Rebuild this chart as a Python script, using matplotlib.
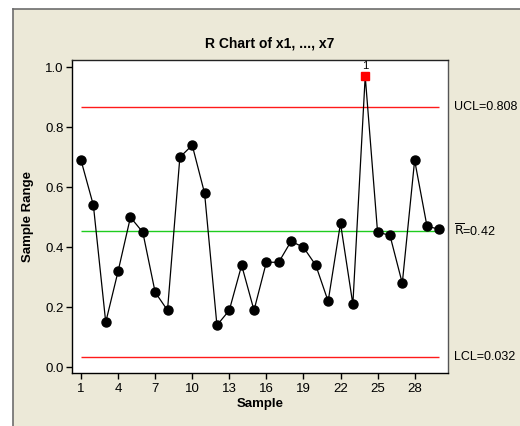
import matplotlib
matplotlib.use('Agg')
import matplotlib.pyplot as plt
from matplotlib.patches import Rectangle
from matplotlib.lines import Line2D

plt.rcParams['font.family'] = ['Liberation Sans', 'DejaVu Sans']

sample = list(range(1, 31))
ranges = [0.69, 0.54, 0.15, 0.32, 0.50, 0.45, 0.25, 0.19, 0.70, 0.74,
          0.58, 0.14, 0.19, 0.34, 0.19, 0.35, 0.35, 0.42, 0.40, 0.34,
          0.22, 0.48, 0.21, 0.97, 0.45, 0.44, 0.28, 0.69, 0.47, 0.46]
out_sample = [24]

# where the limit lines sit in the picture, and their labels
ucl, center, lcl = 0.869, 0.453, 0.033
ucl_text = 'UCL=0.808'
center_text = r'$\overline{\mathrm{R}}$=0.42'
lcl_text = 'LCL=0.032'
xticks = [1, 4, 7, 10, 13, 16, 19, 22, 25, 28]
yticks = [0.0, 0.2, 0.4, 0.6, 0.8, 1.0]

W, H = 520, 426
fig = plt.figure(figsize=(5.2, 4.26), dpi=100, facecolor='white')

# beige panel with dark border on top/left
fig.patches.append(Rectangle((13 / W, 0), 1, 1 - 9 / H, transform=fig.transFigure,
                             facecolor='#ECE9D8', edgecolor='none', zorder=-10))
fig.lines.append(Line2D([13 / W, 13 / W], [0, 1 - 9 / H], transform=fig.transFigure,
                        color='#6d6d6d', lw=1.2, zorder=-9))
fig.lines.append(Line2D([13 / W, 1], [1 - 9 / H, 1 - 9 / H], transform=fig.transFigure,
                        color='#6d6d6d', lw=1.2, zorder=-9))

ax = fig.add_axes([72 / W, 1 - 373.3 / H, 376 / W, 313.3 / H])
ax.set_facecolor('white')

ax.plot(sample, ranges, color='black', lw=0.9, zorder=3)
ok = [(s, v) for s, v in zip(sample, ranges) if s not in out_sample]
bad = [(s, v) for s, v in zip(sample, ranges) if s in out_sample]
ax.plot([p[0] for p in ok], [p[1] for p in ok], ls='none', marker='o', ms=6.5,
        color='black', zorder=4)
ax.plot([p[0] for p in bad], [p[1] for p in bad], ls='none', marker='s', ms=5.5,
        color='#ff0000', mec='#ff0000', zorder=4)
for s, v in bad:
    ax.text(s, v + 0.017, '1', ha='center', va='bottom', fontsize=8)

ax.hlines([ucl, lcl], 1, 30, colors='#ff1a1a', lw=1)
ax.hlines(center, 1, 30, colors='#1fcc1f', lw=1)

ax.text(31.15, ucl, ucl_text, ha='left', va='center', fontsize=9, clip_on=False)
ax.text(31.15, center, center_text, ha='left', va='center', fontsize=9, clip_on=False)
ax.text(31.15, lcl, lcl_text, ha='left', va='center', fontsize=9, clip_on=False)

ax.set_xlim(0.27, 30.7)
ax.set_ylim(-0.02, 1.024)
ax.set_xticks(xticks)
ax.set_yticks(yticks)
ax.set_yticklabels(['%.1f' % t for t in yticks])
ax.tick_params(direction='out', length=4, width=1, labelsize=9.5, pad=2)
ax.tick_params(axis='x', pad=3)
for sp in ax.spines.values():
    sp.set_linewidth(1)
ax.spines['right'].set_color('#555555')
ax.spines['top'].set_color('#222222')

ax.set_xlabel('Sample', fontsize=9.5, fontweight='bold', labelpad=2)
ax.set_ylabel('Sample Range', fontsize=9.5, fontweight='bold', labelpad=8)
fig.text(270 / W, 1 - 43 / H, 'R Chart of x1, ..., x7', ha='center', va='center',
         fontsize=10, fontweight='bold')

fig.savefig('out.png', dpi=100, facecolor='white')
